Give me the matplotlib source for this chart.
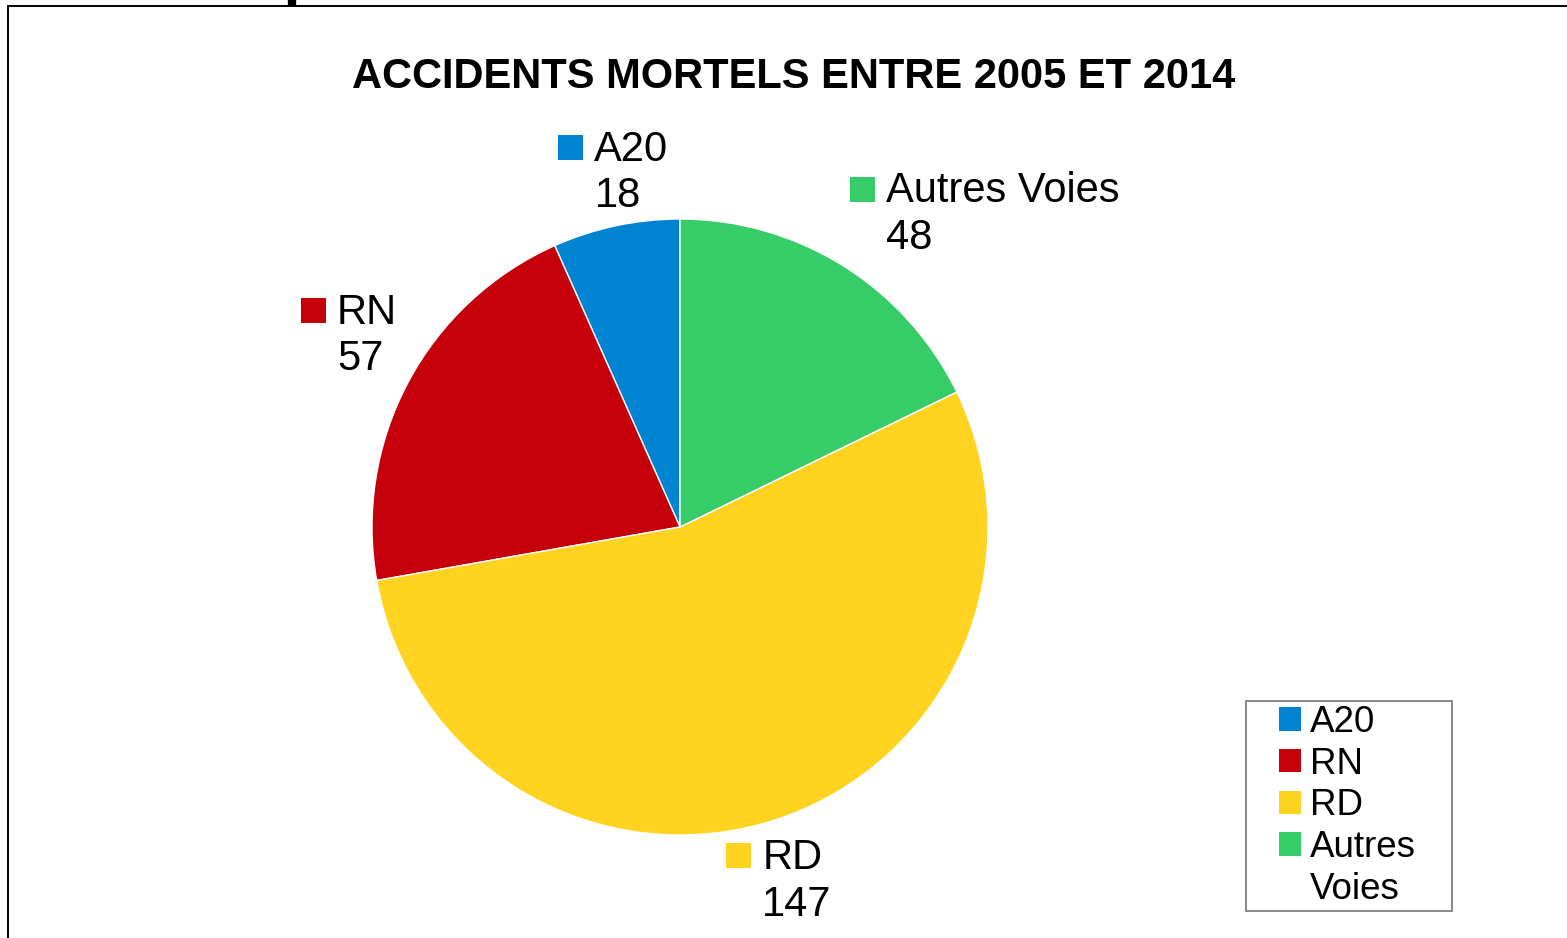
import numpy as np
import matplotlib
matplotlib.use("Agg")
import matplotlib.pyplot as plt
from matplotlib.patches import Rectangle, Patch
from matplotlib.lines import Line2D
from matplotlib.offsetbox import AnnotationBbox, HPacker, VPacker, DrawingArea, TextArea

# ---- data ----
title = "ACCIDENTS MORTELS ENTRE 2005 ET 2014"
categories = ["A20", "RN", "RD", "Autres Voies"]
values = [18, 57, 147, 48]
colors = ["#0084d1", "#c5000b", "#ffd320", "#36cd69"]
legend_labels = ["A20", "RN", "RD", "Autres\nVoies"]

plt.rcParams['font.family'] = ['Liberation Sans', 'DejaVu Sans']

W, H = 1567, 938
DPI = 100
fig = plt.figure(figsize=(W / DPI, H / DPI), dpi=DPI)
fig.patch.set_facecolor("white")

def px2fig(x, y):
    return x / W, 1 - y / H

# outer frame (border of the chart object)
fig.add_artist(Line2D([8 / W, 1.0], [1 - 6 / H, 1 - 6 / H], transform=fig.transFigure,
                      color="black", lw=1.4))
fig.add_artist(Line2D([8 / W, 8 / W], [1 - 6 / H, 0], transform=fig.transFigure,
                      color="black", lw=1.4))
fig.add_artist(Line2D([292 / W, 292 / W], [1 - 6 / H, 1.0], transform=fig.transFigure,
                      color="black", lw=6, solid_capstyle="butt"))

# title
fig.text(793.5 / W, 1 - 88 / H, title, ha="center", va="baseline",
         fontsize=30, fontweight="bold", color="black")

# pie axes: centre (680,527) px, radius 308 px
cx, cy, r = 680, 527, 308
ax = fig.add_axes([(cx - r) / W, (H - cy - r) / H, 2 * r / W, 2 * r / H])
wedges, _ = ax.pie(values, colors=colors, startangle=90, counterclock=True,
                   radius=1.0, wedgeprops=dict(edgecolor="white", linewidth=1.0))
ax.set_xlim(-1, 1)
ax.set_ylim(-1, 1)
ax.set_aspect("equal")
ax.axis("off")

# data labels outside the pie
lab_r = 1.04
for w, cat, val, col in zip(wedges, categories, values, colors):
    mid = np.deg2rad((w.theta1 + w.theta2) / 2)
    c, s = np.cos(mid), np.sin(mid)
    x, y = lab_r * c, lab_r * s
    if abs(c) < 0.35:
        bx = 0.5
    else:
        bx = 0.0 if c > 0 else 1.0
    by = 0.0 if s > 0 else 1.0
    dy = -2.0 if by == 0.0 else -4.5
    sq = DrawingArea(18, 18, 0, 0)
    sq.add_artist(Rectangle((0, 0), 18, 18, facecolor=col, edgecolor="none"))
    sqcol = VPacker(children=[DrawingArea(1, 4, 0, 0), sq], sep=0, pad=0, align="left")
    txt = TextArea(f"{cat}\n{val}", textprops=dict(fontsize=30, color="black", linespacing=1.22))
    box = HPacker(children=[sqcol, txt], sep=8, pad=0, align="top")
    ab = AnnotationBbox(box, (x, y), xycoords="data", xybox=(0, dy),
                        boxcoords="offset points", box_alignment=(bx, by),
                        frameon=False, pad=0, annotation_clip=False)
    ax.add_artist(ab)

# legend (one row per text line; square beside first line)
handles, labels = [], []
for lab, col in zip(legend_labels, colors):
    lines = lab.split("\n")
    handles.append(Patch(facecolor=col, edgecolor="none"))
    labels.append(lines[0])
    for extra in lines[1:]:
        handles.append(Patch(facecolor="none", edgecolor="none"))
        labels.append(extra)

leg_fs = 26.5
leg = fig.legend(handles, labels, loc="upper left",
                 bbox_to_anchor=px2fig(1246 + 33, 705), bbox_transform=fig.transFigure,
                 fontsize=leg_fs, frameon=False, borderpad=0, borderaxespad=0,
                 handlelength=0.6, handleheight=0.6, handletextpad=0.25,
                 labelspacing=0.18)

fig.canvas.draw()
bb = leg.get_window_extent()
padx, pady = 33, 4
rx0 = (bb.x0 - padx) / W
ry0 = (bb.y0 - pady) / H
rw = (bb.width + 2 * padx + 3) / W
rh = (bb.height + 2 * pady) / H
fig.add_artist(Rectangle((rx0, ry0), rw, rh, transform=fig.transFigure,
                         facecolor="none", edgecolor="#7f7f7f", lw=1.3))

fig.savefig("out.png", dpi=DPI, facecolor="white")
